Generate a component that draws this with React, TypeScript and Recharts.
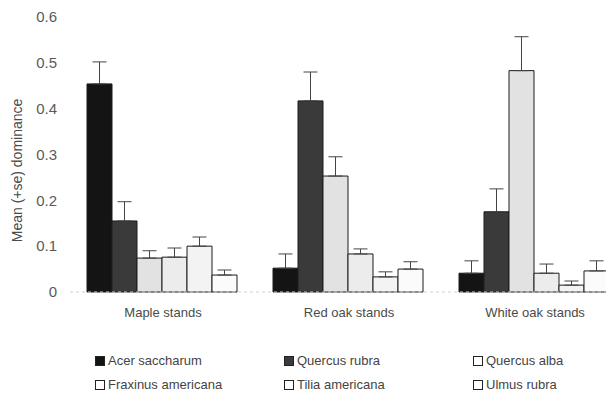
import { BarChart, Bar, XAxis, YAxis, ErrorBar, Label } from 'recharts'

const stands = ['Maple stands', 'Red oak stands', 'White oak stands']

const species = [
  'Acer saccharum', 'Quercus rubra', 'Quercus alba',
  'Fraxinus americana', 'Tilia americana', 'Ulmus rubra',
]

// mean dominance per stand type (maple, red oak, white oak)
const acerMean = [0.454, 0.052, 0.041]
const rubraMean = [0.155, 0.417, 0.175]
const albaMean = [0.074, 0.253, 0.483]
const fraxMean = [0.076, 0.083, 0.041]
const tiliaMean = [0.1, 0.033, 0.015]
const ulmusMean = [0.037, 0.05, 0.046]

// standard errors, same order
const acerSe = [0.048, 0.031, 0.027]
const rubraSe = [0.042, 0.063, 0.05]
const albaSe = [0.016, 0.042, 0.074]
const fraxSe = [0.02, 0.011, 0.02]
const tiliaSe = [0.02, 0.011, 0.009]
const ulmusSe = [0.011, 0.016, 0.022]

const yTicks = [0, 0.1, 0.2, 0.3, 0.4, 0.5, 0.6]

const means = [acerMean, rubraMean, albaMean, fraxMean, tiliaMean, ulmusMean]
const ses = [acerSe, rubraSe, albaSe, fraxSe, tiliaSe, ulmusSe]

const fills = ['#141414', '#3a3a3a', '#e2e2e2', '#ececec', '#f3f3f3', '#fbfbfb']

const keyOf = (i: number) => `s${i}`

const data = stands.map((stand, j) => {
  const row: Record<string, unknown> = { stand }
  species.forEach((_, i) => {
    row[keyOf(i)] = means[i][j]
    row[`${keyOf(i)}err`] = [0, ses[i][j]]
  })
  return row
})

const font = '"Liberation Sans", Arial, sans-serif'

const YLabel = ({ viewBox }: { viewBox?: { x: number; y: number; width: number; height: number } }) => {
  if (!viewBox) return null
  const cx = 17
  const cy = viewBox.y + viewBox.height / 2 + 16
  return (
    <text
      x={cx}
      y={cy}
      transform={`rotate(-90 ${cx} ${cy})`}
      textAnchor="middle"
      dominantBaseline="central"
      fontSize={14}
      fill="#4a4a4a"
      fontFamily={font}
    >
      Mean (+se) dominance
    </text>
  )
}

function LegendBox({ i }: { i: number }) {
  return (
    <span style={{
      display: 'inline-block',
      width: 8,
      height: 8,
      marginRight: 3,
      border: '1px solid #222',
      background: i < 2 ? fills[i] : '#fff',
      verticalAlign: 'middle',
      position: 'relative',
      top: -1,
    }} />
  )
}

export default function App() {
  return (
    <div style={{
      position: 'fixed', left: 0, top: 0, width: 606, height: 394,
      overflow: 'hidden', background: '#fff', fontFamily: font,
    }}>
      <BarChart
        width={640}
        height={394}
        data={data}
        margin={{ top: 17, right: 12, left: 10, bottom: 72 }}
        barCategoryGap={17}
        barGap={0}
      >
        <XAxis
          dataKey="stand"
          height={30}
          axisLine={{ stroke: '#d0d0d0', strokeDasharray: '3 3' }}
          tickLine={false}
          tick={{ fill: '#4a4a4a', fontSize: 13, fontFamily: font }}
          tickMargin={10}
        />
        <YAxis
          width={60}
          domain={[0, 0.6]}
          ticks={yTicks}
          tickFormatter={(v: number) => String(v)}
          axisLine={false}
          tickLine={false}
          tickMargin={7}
          tick={{ fill: '#5a5a5a', fontSize: 15, fontFamily: font }}
        >
          <Label content={<YLabel />} />
        </YAxis>
        {species.map((name, i) => (
          <Bar
            key={name}
            dataKey={keyOf(i)}
            name={name}
            fill={fills[i]}
            stroke="#1c1c1c"
            strokeWidth={1}
            isAnimationActive={false}
          >
            <ErrorBar
              dataKey={`${keyOf(i)}err`}
              direction="y"
              width={7}
              stroke="#444"
              strokeWidth={1}
            />
          </Bar>
        ))}
      </BarChart>
      <div style={{
        position: 'absolute', left: 95, top: 353,
        display: 'grid', gridTemplateColumns: '189px 189px 140px',
        rowGap: 9, fontSize: 13, color: '#444', lineHeight: '15px',
      }}>
        {species.map((name, i) => (
          <div key={name} style={{ whiteSpace: 'nowrap' }}>
            <LegendBox i={i} />
            {name}
          </div>
        ))}
      </div>
    </div>
  )
}
